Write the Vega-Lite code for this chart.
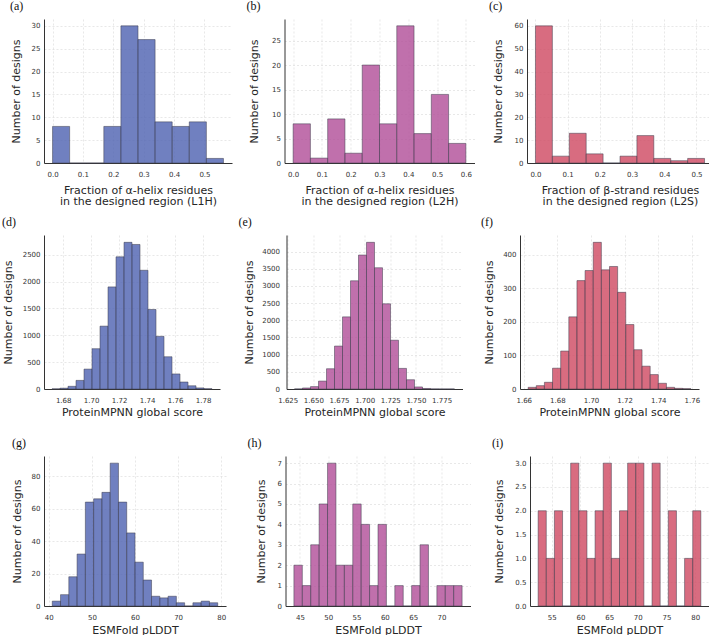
{
  "$schema": "https://vega.github.io/schema/vega-lite/v6.json",
  "background": "white",
  "padding": {"left": 2, "top": 0, "right": 0, "bottom": 0},
  "spacing": 9,
  "datasets": {
    "a": [
      {"x0": 0, "x1": 0.05625, "n": 8}, {"x0": 0.05625, "x1": 0.1125, "n": 0}, {"x0": 0.1125, "x1": 0.16875, "n": 0},
      {"x0": 0.16875, "x1": 0.225, "n": 8}, {"x0": 0.225, "x1": 0.28125, "n": 30}, {"x0": 0.28125, "x1": 0.3375, "n": 27},
      {"x0": 0.3375, "x1": 0.39375, "n": 9}, {"x0": 0.39375, "x1": 0.45, "n": 8}, {"x0": 0.45, "x1": 0.50625, "n": 9},
      {"x0": 0.50625, "x1": 0.5625, "n": 1}
    ],
    "b": [
      {"x0": 0, "x1": 0.06, "n": 8}, {"x0": 0.06, "x1": 0.12, "n": 1}, {"x0": 0.12, "x1": 0.18, "n": 9},
      {"x0": 0.18, "x1": 0.24, "n": 2}, {"x0": 0.24, "x1": 0.3, "n": 20}, {"x0": 0.3, "x1": 0.36, "n": 8},
      {"x0": 0.36, "x1": 0.42, "n": 28}, {"x0": 0.42, "x1": 0.48, "n": 6}, {"x0": 0.48, "x1": 0.54, "n": 14},
      {"x0": 0.54, "x1": 0.6, "n": 4}
    ],
    "c": [
      {"x0": 0, "x1": 0.0525, "n": 60}, {"x0": 0.0525, "x1": 0.105, "n": 3}, {"x0": 0.105, "x1": 0.1575, "n": 13},
      {"x0": 0.1575, "x1": 0.21, "n": 4}, {"x0": 0.21, "x1": 0.2625, "n": 0}, {"x0": 0.2625, "x1": 0.315, "n": 3},
      {"x0": 0.315, "x1": 0.3675, "n": 12}, {"x0": 0.3675, "x1": 0.42, "n": 2}, {"x0": 0.42, "x1": 0.4725, "n": 1},
      {"x0": 0.4725, "x1": 0.525, "n": 2}
    ],
    "d": [
      {"x0": 1.672, "x1": 1.67772, "n": 3}, {"x0": 1.67772, "x1": 1.68344, "n": 15}, {"x0": 1.68344, "x1": 1.68916, "n": 50},
      {"x0": 1.68916, "x1": 1.69488, "n": 160}, {"x0": 1.69488, "x1": 1.7006, "n": 370}, {"x0": 1.7006, "x1": 1.70632, "n": 750},
      {"x0": 1.70632, "x1": 1.71204, "n": 1170}, {"x0": 1.71204, "x1": 1.71776, "n": 1900}, {"x0": 1.71776, "x1": 1.72348, "n": 2460},
      {"x0": 1.72348, "x1": 1.7292, "n": 2730}, {"x0": 1.7292, "x1": 1.73492, "n": 2690}, {"x0": 1.73492, "x1": 1.74064, "n": 2210},
      {"x0": 1.74064, "x1": 1.74636, "n": 1480}, {"x0": 1.74636, "x1": 1.75208, "n": 980}, {"x0": 1.75208, "x1": 1.7578, "n": 600},
      {"x0": 1.7578, "x1": 1.76352, "n": 280}, {"x0": 1.76352, "x1": 1.76924, "n": 130}, {"x0": 1.76924, "x1": 1.77496, "n": 60},
      {"x0": 1.77496, "x1": 1.78068, "n": 20}, {"x0": 1.78068, "x1": 1.7864, "n": 5}
    ],
    "e": [
      {"x0": 1.6316, "x1": 1.6394, "n": 2}, {"x0": 1.6394, "x1": 1.6472, "n": 30}, {"x0": 1.6472, "x1": 1.655, "n": 70},
      {"x0": 1.655, "x1": 1.6628, "n": 230}, {"x0": 1.6628, "x1": 1.6706, "n": 590}, {"x0": 1.6706, "x1": 1.6784, "n": 1250},
      {"x0": 1.6784, "x1": 1.6862, "n": 2100}, {"x0": 1.6862, "x1": 1.694, "n": 3150}, {"x0": 1.694, "x1": 1.7018, "n": 3900},
      {"x0": 1.7018, "x1": 1.7096, "n": 4270}, {"x0": 1.7096, "x1": 1.7174, "n": 3530}, {"x0": 1.7174, "x1": 1.7252, "n": 2480},
      {"x0": 1.7252, "x1": 1.733, "n": 1420}, {"x0": 1.733, "x1": 1.7408, "n": 600}, {"x0": 1.7408, "x1": 1.7486, "n": 270},
      {"x0": 1.7486, "x1": 1.7564, "n": 60}, {"x0": 1.7564, "x1": 1.7642, "n": 15}, {"x0": 1.7642, "x1": 1.772, "n": 3},
      {"x0": 1.772, "x1": 1.7798, "n": 1}, {"x0": 1.7798, "x1": 1.7876, "n": 1}
    ],
    "f": [
      {"x0": 1.6626, "x1": 1.66744, "n": 5}, {"x0": 1.66744, "x1": 1.67228, "n": 10}, {"x0": 1.67228, "x1": 1.67712, "n": 20},
      {"x0": 1.67712, "x1": 1.68196, "n": 62}, {"x0": 1.68196, "x1": 1.6868, "n": 113}, {"x0": 1.6868, "x1": 1.69164, "n": 215},
      {"x0": 1.69164, "x1": 1.69648, "n": 323}, {"x0": 1.69648, "x1": 1.70132, "n": 353}, {"x0": 1.70132, "x1": 1.70616, "n": 437},
      {"x0": 1.70616, "x1": 1.711, "n": 355}, {"x0": 1.711, "x1": 1.71584, "n": 365}, {"x0": 1.71584, "x1": 1.72068, "n": 288},
      {"x0": 1.72068, "x1": 1.72552, "n": 192}, {"x0": 1.72552, "x1": 1.73036, "n": 117}, {"x0": 1.73036, "x1": 1.7352, "n": 68},
      {"x0": 1.7352, "x1": 1.74004, "n": 43}, {"x0": 1.74004, "x1": 1.74488, "n": 17}, {"x0": 1.74488, "x1": 1.74972, "n": 5},
      {"x0": 1.74972, "x1": 1.75456, "n": 2}, {"x0": 1.75456, "x1": 1.7594, "n": 1}
    ],
    "g": [
      {"x0": 40.8, "x1": 42.72, "n": 3}, {"x0": 42.72, "x1": 44.64, "n": 7}, {"x0": 44.64, "x1": 46.56, "n": 18},
      {"x0": 46.56, "x1": 48.48, "n": 32}, {"x0": 48.48, "x1": 50.4, "n": 64}, {"x0": 50.4, "x1": 52.32, "n": 66},
      {"x0": 52.32, "x1": 54.24, "n": 70}, {"x0": 54.24, "x1": 56.16, "n": 88}, {"x0": 56.16, "x1": 58.08, "n": 64},
      {"x0": 58.08, "x1": 60, "n": 45}, {"x0": 60, "x1": 61.92, "n": 27}, {"x0": 61.92, "x1": 63.84, "n": 16},
      {"x0": 63.84, "x1": 65.76, "n": 6}, {"x0": 65.76, "x1": 67.68, "n": 5}, {"x0": 67.68, "x1": 69.6, "n": 6},
      {"x0": 69.6, "x1": 71.52, "n": 2}, {"x0": 71.52, "x1": 73.44, "n": 0}, {"x0": 73.44, "x1": 75.36, "n": 2},
      {"x0": 75.36, "x1": 77.28, "n": 3}, {"x0": 77.28, "x1": 79.2, "n": 2}
    ],
    "h": [
      {"x0": 43.94, "x1": 45.425, "n": 2}, {"x0": 45.425, "x1": 46.91, "n": 1}, {"x0": 46.91, "x1": 48.395, "n": 3},
      {"x0": 48.395, "x1": 49.88, "n": 5}, {"x0": 49.88, "x1": 51.365, "n": 7}, {"x0": 51.365, "x1": 52.85, "n": 2},
      {"x0": 52.85, "x1": 54.335, "n": 2}, {"x0": 54.335, "x1": 55.82, "n": 5}, {"x0": 55.82, "x1": 57.305, "n": 4},
      {"x0": 57.305, "x1": 58.79, "n": 1}, {"x0": 58.79, "x1": 60.275, "n": 4}, {"x0": 60.275, "x1": 61.76, "n": 0},
      {"x0": 61.76, "x1": 63.245, "n": 1}, {"x0": 63.245, "x1": 64.73, "n": 0}, {"x0": 64.73, "x1": 66.215, "n": 1},
      {"x0": 66.215, "x1": 67.7, "n": 3}, {"x0": 67.7, "x1": 69.185, "n": 0}, {"x0": 69.185, "x1": 70.67, "n": 1},
      {"x0": 70.67, "x1": 72.155, "n": 1}, {"x0": 72.155, "x1": 73.64, "n": 1}
    ],
    "i": [
      {"x0": 52.62, "x1": 54.0385, "n": 2}, {"x0": 54.0385, "x1": 55.457, "n": 1}, {"x0": 55.457, "x1": 56.8755, "n": 2},
      {"x0": 56.8755, "x1": 58.294, "n": 0}, {"x0": 58.294, "x1": 59.7125, "n": 3}, {"x0": 59.7125, "x1": 61.131, "n": 2},
      {"x0": 61.131, "x1": 62.5495, "n": 1}, {"x0": 62.5495, "x1": 63.968, "n": 2}, {"x0": 63.968, "x1": 65.3865, "n": 3},
      {"x0": 65.3865, "x1": 66.805, "n": 1}, {"x0": 66.805, "x1": 68.2235, "n": 2}, {"x0": 68.2235, "x1": 69.642, "n": 3},
      {"x0": 69.642, "x1": 71.0605, "n": 3}, {"x0": 71.0605, "x1": 72.479, "n": 0}, {"x0": 72.479, "x1": 73.8975, "n": 3},
      {"x0": 73.8975, "x1": 75.316, "n": 0}, {"x0": 75.316, "x1": 76.7345, "n": 2}, {"x0": 76.7345, "x1": 78.153, "n": 0},
      {"x0": 78.153, "x1": 79.5715, "n": 1}, {"x0": 79.5715, "x1": 80.99, "n": 2}
    ]
  },
  "config": {
    "view": {"stroke": null},
    "font": "DejaVu Sans",
    "title": {"font": "Liberation Serif", "fontSize": 12, "fontWeight": "normal", "color": "#111", "anchor": "start", "frame": "group", "offset": 6, "baseline": "alphabetic"},
    "bar": {"fillOpacity": 0.8, "stroke": "#3c3c4c", "strokeWidth": 0.6, "strokeOpacity": 0.85},
    "axis": {
      "labelFont": "DejaVu Sans", "labelFontSize": 7, "labelColor": "#333",
      "titleFont": "DejaVu Sans", "titleFontSize": 11, "titleFontWeight": "normal", "titleColor": "#262626",
      "titleLineHeight": 11.5,
      "domain": true, "domainColor": "#333", "domainWidth": 1, "ticks": false,
      "gridColor": "#d9d9d9", "gridDash": [2, 2], "gridWidth": 0.6
    },
    "axisX": {"labelPadding": 7, "labelFlush": false, "minExtent": 14, "maxExtent": 14},
    "axisY": {"labelPadding": 4, "format": "d", "titleAngle": 270, "titleBaseline": "bottom"}
  },
  "vconcat": [
    {
      "spacing": 14.5,
      "hconcat": [
        {
          "width": 188, "height": 144, "title": {"text": "(a)", "dx": -34}, "data": {"name": "a"},
          "mark": {"type": "bar", "fill": "#4c60b0"},
          "encoding": {
            "x": {"field": "x0", "type": "quantitative", "scale": {"domain": [-0.0281, 0.5906], "nice": false, "zero": false},
                  "axis": {"title": ["Fraction of α-helix residues", "in the designed region (L1H)"], "titlePadding": 7, "values": [0, 0.1, 0.2, 0.3, 0.4, 0.5], "format": ".1f"}},
            "x2": {"field": "x1"},
            "y": {"field": "n", "type": "quantitative", "scale": {"domain": [0, 31.5], "nice": false},
                  "axis": {"title": "Number of designs", "titlePadding": 9.4, "values": [0, 5, 10, 15, 20, 25, 30]}},
            "y2": {"datum": 0}
          }
        },
        {
          "width": 190, "height": 144, "title": {"text": "(b)", "dx": -38}, "data": {"name": "b"},
          "mark": {"type": "bar", "fill": "#b04c97"},
          "encoding": {
            "x": {"field": "x0", "type": "quantitative", "scale": {"domain": [-0.03, 0.63], "nice": false, "zero": false},
                  "axis": {"title": ["Fraction of α-helix residues", "in the designed region (L2H)"], "titlePadding": 7, "values": [0, 0.1, 0.2, 0.3, 0.4, 0.5, 0.6], "format": ".1f"}},
            "x2": {"field": "x1"},
            "y": {"field": "n", "type": "quantitative", "scale": {"domain": [0, 29.4], "nice": false},
                  "axis": {"title": "Number of designs", "titlePadding": 11.7, "values": [0, 5, 10, 15, 20, 25]}},
            "y2": {"datum": 0}
          }
        },
        {
          "width": 186, "height": 144, "title": {"text": "(c)", "dx": -38}, "data": {"name": "c"},
          "mark": {"type": "bar", "fill": "#ce4760"},
          "encoding": {
            "x": {"field": "x0", "type": "quantitative", "scale": {"domain": [-0.02625, 0.55125], "nice": false, "zero": false},
                  "axis": {"title": ["Fraction of β-strand residues", "in the designed region (L2S)"], "titlePadding": 7, "values": [0, 0.1, 0.2, 0.3, 0.4, 0.5], "format": ".1f"}},
            "x2": {"field": "x1"},
            "y": {"field": "n", "type": "quantitative", "scale": {"domain": [0, 63], "nice": false},
                  "axis": {"title": "Number of designs", "titlePadding": 10.7, "values": [0, 10, 20, 30, 40, 50, 60]}},
            "y2": {"datum": 0}
          }
        }
      ]
    },
    {
      "spacing": 20,
      "vconcat": [
        {
          "spacing": 18.5,
          "hconcat": [
            {
              "width": 176, "height": 154, "title": {"text": "(d)", "dx": -42}, "data": {"name": "d"},
              "mark": {"type": "bar", "fill": "#4c60b0"},
              "encoding": {
                "x": {"field": "x0", "type": "quantitative", "scale": {"domain": [1.66628, 1.79212], "nice": false, "zero": false},
                      "axis": {"title": "ProteinMPNN global score", "titlePadding": 3, "values": [1.68, 1.7, 1.72, 1.74, 1.76, 1.78], "format": ".2f"}},
                "x2": {"field": "x1"},
                "y": {"field": "n", "type": "quantitative", "scale": {"domain": [0, 2866.5], "nice": false},
                      "axis": {"title": "Number of designs", "titlePadding": 8.9, "values": [0, 500, 1000, 1500, 2000, 2500]}},
                "y2": {"datum": 0}
              }
            },
            {
              "width": 176, "height": 154, "title": {"text": "(e)", "dx": -48}, "data": {"name": "e"},
              "mark": {"type": "bar", "fill": "#b04c97"},
              "encoding": {
                "x": {"field": "x0", "type": "quantitative", "scale": {"domain": [1.6238, 1.7954], "nice": false, "zero": false},
                      "axis": {"title": "ProteinMPNN global score", "titlePadding": 3, "values": [1.625, 1.65, 1.675, 1.7, 1.725, 1.75, 1.775], "format": ".3f"}},
                "x2": {"field": "x1"},
                "y": {"field": "n", "type": "quantitative", "scale": {"domain": [0, 4483.5], "nice": false},
                      "axis": {"title": "Number of designs", "labelPadding": 7, "titlePadding": 6.9, "values": [0, 500, 1000, 1500, 2000, 2500, 3000, 3500, 4000]}},
                "y2": {"datum": 0}
              }
            },
            {
              "width": 179, "height": 154, "title": {"text": "(f)", "dx": -39}, "data": {"name": "f"},
              "mark": {"type": "bar", "fill": "#ce4760"},
              "encoding": {
                "x": {"field": "x0", "type": "quantitative", "scale": {"domain": [1.65776, 1.76424], "nice": false, "zero": false},
                      "axis": {"title": "ProteinMPNN global score", "titlePadding": 3, "values": [1.66, 1.68, 1.7, 1.72, 1.74, 1.76], "format": ".2f"}},
                "x2": {"field": "x1"},
                "y": {"field": "n", "type": "quantitative", "scale": {"domain": [0, 458.85], "nice": false},
                      "axis": {"title": "Number of designs", "titlePadding": 8.3, "values": [0, 100, 200, 300, 400]}},
                "y2": {"datum": 0}
              }
            }
          ]
        },
        {
          "spacing": 21.5,
          "hconcat": [
            {
              "width": 182, "height": 150, "title": {"text": "(g)", "dx": -32}, "data": {"name": "g"},
              "mark": {"type": "bar", "fill": "#4c60b0"},
              "encoding": {
                "x": {"field": "x0", "type": "quantitative", "scale": {"domain": [38.88, 81.12], "nice": false, "zero": false},
                      "axis": {"title": "ESMFold pLDDT", "titlePadding": 4, "values": [40, 50, 60, 70, 80]}},
                "x2": {"field": "x1"},
                "y": {"field": "n", "type": "quantitative", "scale": {"domain": [0, 92.4], "nice": false},
                      "axis": {"title": "Number of designs", "titlePadding": 8.7, "values": [0, 20, 40, 60, 80]}},
                "y2": {"datum": 0}
              }
            },
            {
              "width": 185, "height": 150, "title": {"text": "(h)", "dx": -38}, "data": {"name": "h"},
              "mark": {"type": "bar", "fill": "#b04c97"},
              "encoding": {
                "x": {"field": "x0", "type": "quantitative", "scale": {"domain": [42.455, 75.125], "nice": false, "zero": false},
                      "axis": {"title": "ESMFold pLDDT", "titlePadding": 4, "values": [45, 50, 55, 60, 65, 70]}},
                "x2": {"field": "x1"},
                "y": {"field": "n", "type": "quantitative", "scale": {"domain": [0, 7.35], "nice": false},
                      "axis": {"title": "Number of designs", "titlePadding": 10.2, "values": [0, 1, 2, 3, 4, 5, 6, 7]}},
                "y2": {"datum": 0}
              }
            },
            {
              "width": 179, "height": 150, "title": {"text": "(i)", "dx": -38}, "data": {"name": "i"},
              "mark": {"type": "bar", "fill": "#ce4760"},
              "encoding": {
                "x": {"field": "x0", "type": "quantitative", "scale": {"domain": [51.2, 82.41], "nice": false, "zero": false},
                      "axis": {"title": "ESMFold pLDDT", "titlePadding": 4, "values": [55, 60, 65, 70, 75, 80]}},
                "x2": {"field": "x1"},
                "y": {"field": "n", "type": "quantitative", "scale": {"domain": [0, 3.15], "nice": false},
                      "axis": {"title": "Number of designs", "titlePadding": 10.6, "values": [0, 0.5, 1, 1.5, 2, 2.5, 3], "format": ".1f"}},
                "y2": {"datum": 0}
              }
            }
          ]
        }
      ]
    }
  ]
}
